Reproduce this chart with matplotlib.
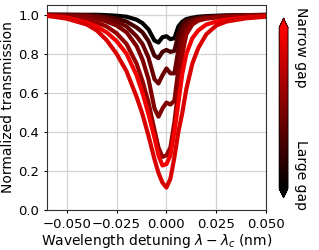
import numpy as np
import matplotlib
matplotlib.use('Agg')
import matplotlib.pyplot as plt
from matplotlib.colors import LinearSegmentedColormap, Normalize
from matplotlib.cm import ScalarMappable

# detuning grid (nm)
detuning = [-0.060, -0.050, -0.040, -0.035, -0.030, -0.025, -0.020, -0.015, -0.012, -0.009,
            -0.006, -0.004, -0.002, 0.000, 0.002, 0.004, 0.006, 0.008, 0.010, 0.013,
            0.016, 0.020, 0.025, 0.030, 0.040, 0.050]

# transmission per gap, large gap (black) -> narrow gap (red)
t_gap1 = [1.000, 1.000, 1.000, 1.000, 0.998, 0.995, 0.990, 0.975, 0.957, 0.925,
          0.868, 0.858, 0.885, 0.890, 0.875, 0.880, 0.940, 0.965, 0.978, 0.985,
          0.990, 0.993, 0.995, 0.997, 0.998, 1.000]
t_gap2 = [1.000, 1.000, 0.998, 0.995, 0.990, 0.980, 0.965, 0.935, 0.910, 0.865,
          0.790, 0.778, 0.810, 0.820, 0.810, 0.815, 0.900, 0.950, 0.970, 0.980,
          0.985, 0.990, 0.992, 0.995, 0.997, 0.999]
t_gap3 = [1.000, 0.998, 0.995, 0.990, 0.980, 0.965, 0.940, 0.890, 0.850, 0.780,
          0.670, 0.648, 0.690, 0.725, 0.700, 0.700, 0.820, 0.910, 0.950, 0.970,
          0.980, 0.985, 0.990, 0.993, 0.996, 0.998]
t_gap4 = [0.999, 0.995, 0.990, 0.980, 0.965, 0.945, 0.910, 0.840, 0.770, 0.670,
          0.520, 0.478, 0.520, 0.550, 0.540, 0.560, 0.720, 0.860, 0.920, 0.960,
          0.975, 0.982, 0.988, 0.992, 0.995, 0.998]
t_gap5 = [0.998, 0.990, 0.975, 0.960, 0.940, 0.905, 0.850, 0.750, 0.660, 0.550,
          0.410, 0.320, 0.272, 0.280, 0.320, 0.450, 0.620, 0.800, 0.900, 0.950,
          0.970, 0.980, 0.986, 0.990, 0.994, 0.997]
t_gap6 = [0.995, 0.985, 0.960, 0.940, 0.910, 0.865, 0.800, 0.690, 0.600, 0.490,
          0.370, 0.280, 0.228, 0.235, 0.280, 0.400, 0.550, 0.700, 0.800, 0.880,
          0.920, 0.950, 0.965, 0.975, 0.985, 0.992]
t_gap7 = [0.995, 0.980, 0.950, 0.920, 0.870, 0.800, 0.710, 0.580, 0.490, 0.380,
          0.260, 0.190, 0.140, 0.115, 0.160, 0.270, 0.400, 0.500, 0.620, 0.750,
          0.830, 0.900, 0.945, 0.965, 0.982, 0.990]

curves = [t_gap1, t_gap2, t_gap3, t_gap4, t_gap5, t_gap6, t_gap7]
levels = [0.0, 0.28, 0.42, 0.5, 0.58, 0.95, 0.85]

cmap = LinearSegmentedColormap.from_list('gap', ['#000000', '#ff0000'])
cmap.set_under('#000000')
cmap.set_over('#ff0000')

fig = plt.figure(figsize=(3.19, 2.5), dpi=100)
ax = fig.add_axes([0.147, 0.16, 0.687, 0.82])

for t, lv in zip(curves, levels):
    ax.plot(detuning, t, color=cmap(lv), lw=3, solid_capstyle='round', zorder=3)

ax.set_xlim(-0.06, 0.05)
ax.set_ylim(0, 1.05)
ax.set_xticks([-0.05, -0.025, 0, 0.025, 0.05])
ax.set_yticks([0, 0.2, 0.4, 0.6, 0.8, 1.0])
ax.grid(True, color='#d3d3d3', lw=0.9)
ax.set_axisbelow(True)
for s in ax.spines.values():
    s.set_color('#333333')
ax.tick_params(labelsize=9.5, length=2)
ax.set_xlabel(r'Wavelength detuning $\lambda-\lambda_c$ (nm)', fontsize=10, labelpad=1)
ax.set_ylabel('Normalized transmission', fontsize=10, labelpad=2)

cax = fig.add_axes([0.875, 0.208, 0.028, 0.72])
sm = ScalarMappable(norm=Normalize(0, 1), cmap=cmap)
cb = fig.colorbar(sm, cax=cax, extend='both', extendfrac=0.06)
cb.set_ticks([])
cb.outline.set_linewidth(0.6)

fig.text(0.945, 0.97, 'Narrow gap', rotation=270, ha='center', va='top', fontsize=10)
fig.text(0.945, 0.16, 'Large gap', rotation=270, ha='center', va='bottom', fontsize=10)

fig.savefig('out.png', dpi=100)
